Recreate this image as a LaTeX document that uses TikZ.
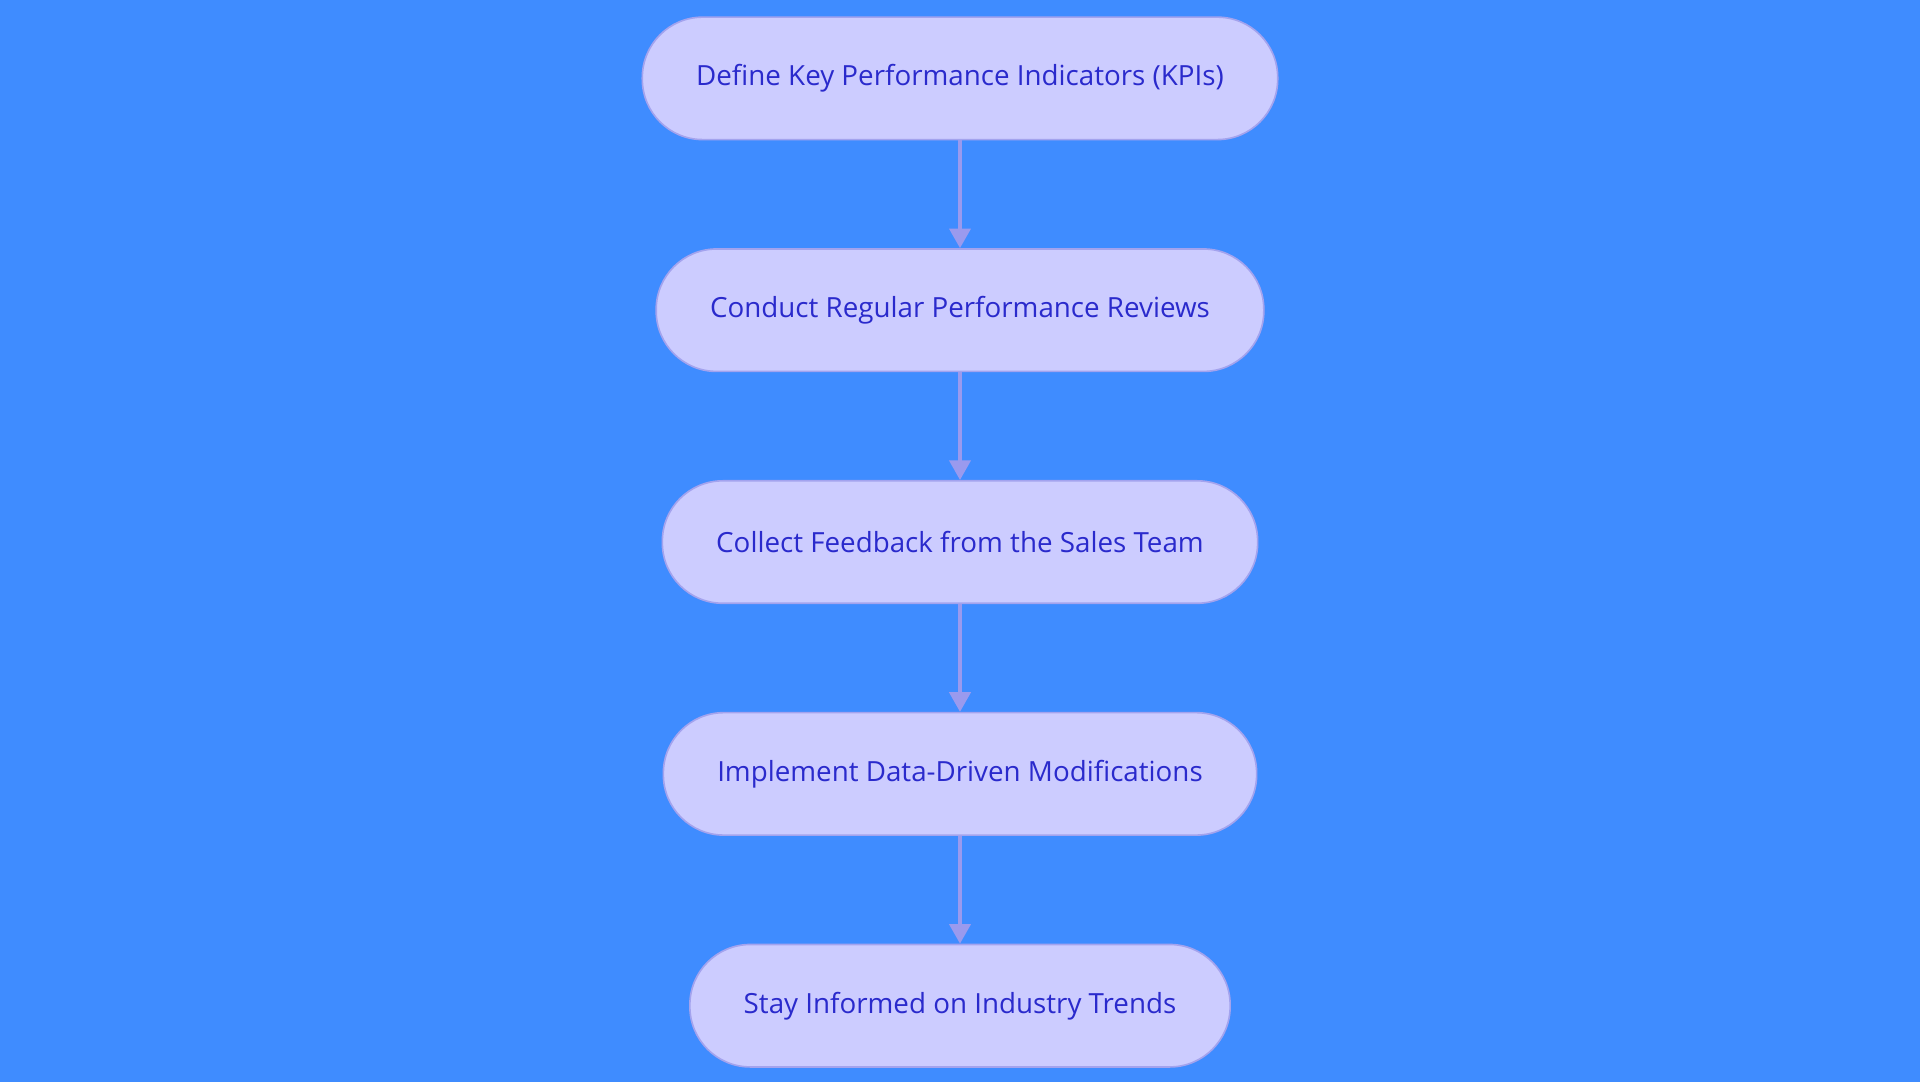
\documentclass[tikz,border=0pt]{standalone}
\usepackage{fontspec}
\setmainfont{Open Sans}
\usetikzlibrary{positioning,arrows.meta}
\definecolor{bgblue}{HTML}{3F8CFF}
\definecolor{stepfill}{HTML}{CCCCFF}
\definecolor{stepline}{HTML}{A3A3EE}
\definecolor{steptext}{HTML}{2A2ACC}
\definecolor{arrowcol}{HTML}{9A9AEE}
\tikzset{
  stage/.style={draw=stepline, fill=stepfill, text=steptext, line width=1pt,
    rounded corners=37pt, minimum height=75pt, inner xsep=33pt,
    font=\fontsize{17}{20}\selectfont},
  flow/.style={draw=arrowcol, line width=2pt, -{Triangle[length=12pt,width=13pt]}}
}
\begin{document}
\begin{tikzpicture}[node distance=66pt]
  \fill[bgblue] (0,0) rectangle (1176pt,-663pt);
  \useasboundingbox (0,0) rectangle (1176pt,-663pt);
  \node[stage] (kpi) at (588pt,-48pt) {Define Key Performance Indicators (KPIs)};
  \node[stage, below=of kpi] (review) {Conduct Regular Performance Reviews};
  \node[stage, below=of review] (feedback) {Collect Feedback from the Sales Team};
  \node[stage, below=of feedback] (modify) {Implement Data-Driven Modifications};
  \node[stage, below=of modify] (trends) {Stay Informed on Industry Trends};

  \draw[flow] (kpi) -- (review);
  \draw[flow] (review) -- (feedback);
  \draw[flow] (feedback) -- (modify);
  \draw[flow] (modify) -- (trends);
\end{tikzpicture}
\end{document}
